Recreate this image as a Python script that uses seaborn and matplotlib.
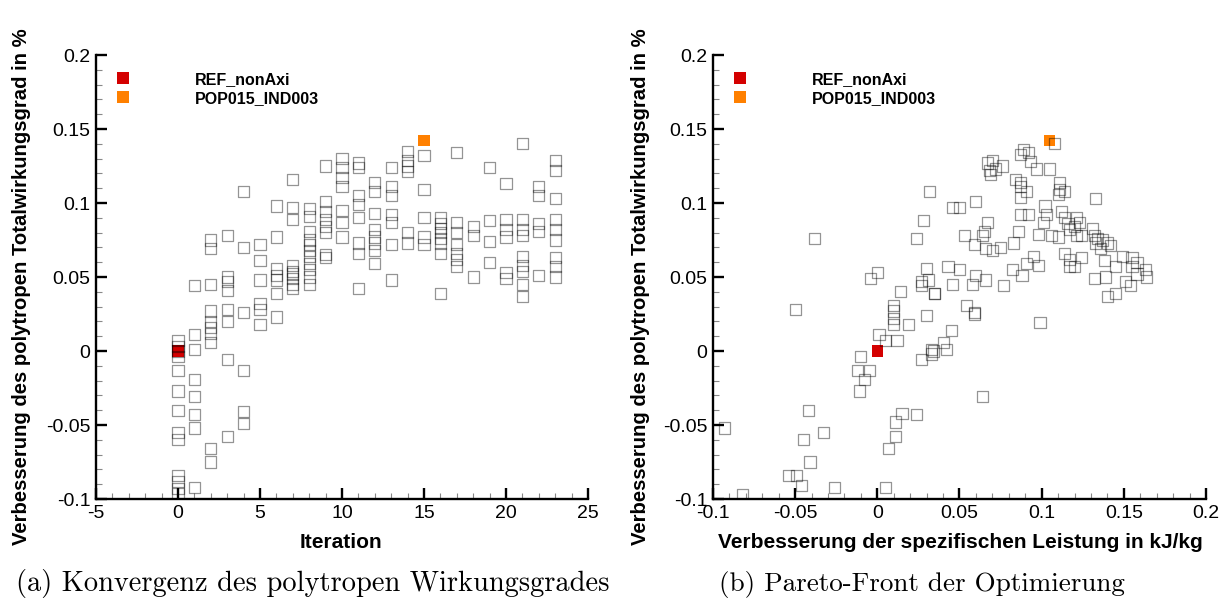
import numpy as np
import pandas as pd
import matplotlib
matplotlib.use("Agg")
import matplotlib.pyplot as plt
import seaborn as sns
from matplotlib.ticker import MultipleLocator, FuncFormatter

# ---------------- data ----------------
# (a) efficiency improvement per iteration (grey individuals)
eta_it00 = [0.007, 0.003, 0.000, -0.004, -0.013, -0.027, -0.040, -0.055, -0.060, -0.084, -0.088, -0.093, -0.096]
eta_it01 = [0.044, 0.011, 0.001, -0.019, -0.031, -0.043, -0.052, -0.092]
eta_it02 = [0.075, 0.069, 0.045, 0.027, 0.020, 0.016, 0.012, 0.006, -0.066, -0.075]
eta_it03 = [0.078, 0.050, 0.047, 0.041, 0.028, 0.020, -0.006, -0.058]
eta_it04 = [0.108, 0.070, 0.026, -0.013, -0.041, -0.049]
eta_it05 = [0.072, 0.061, 0.048, 0.032, 0.028, 0.018]
eta_it06 = [0.098, 0.077, 0.056, 0.051, 0.048, 0.039, 0.023]
eta_it07 = [0.116, 0.097, 0.089, 0.058, 0.054, 0.052, 0.049, 0.045, 0.042]
eta_it08 = [0.096, 0.091, 0.081, 0.075, 0.072, 0.068, 0.064, 0.059, 0.055, 0.050, 0.045]
eta_it09 = [0.125, 0.101, 0.094, 0.089, 0.084, 0.080, 0.065, 0.063]
eta_it10 = [0.130, 0.124, 0.117, 0.111, 0.095, 0.087, 0.077]
eta_it11 = [0.127, 0.124, 0.105, 0.099, 0.090, 0.073, 0.066, 0.042]
eta_it12 = [0.114, 0.108, 0.093, 0.082, 0.077, 0.073, 0.068, 0.059]
eta_it13 = [0.124, 0.111, 0.105, 0.092, 0.087, 0.072, 0.048]
eta_it14 = [0.135, 0.129, 0.125, 0.121, 0.080, 0.073]
eta_it15 = [0.132, 0.109, 0.090, 0.077, 0.072]
eta_it16 = [0.090, 0.086, 0.083, 0.080, 0.076, 0.073, 0.066, 0.039]
eta_it17 = [0.134, 0.087, 0.080, 0.072, 0.066, 0.062, 0.057]
eta_it18 = [0.084, 0.078, 0.050]
eta_it19 = [0.124, 0.088, 0.074, 0.060]
eta_it20 = [0.113, 0.089, 0.082, 0.077, 0.053, 0.049]
eta_it21 = [0.140, 0.089, 0.082, 0.078, 0.064, 0.058, 0.054, 0.045, 0.037]
eta_it22 = [0.111, 0.105, 0.086, 0.081, 0.051]
eta_it23 = [0.129, 0.122, 0.103, 0.089, 0.082, 0.075, 0.063, 0.057, 0.050]
eta_by_iteration = [eta_it00, eta_it01, eta_it02, eta_it03, eta_it04, eta_it05,
                    eta_it06, eta_it07, eta_it08, eta_it09, eta_it10, eta_it11,
                    eta_it12, eta_it13, eta_it14, eta_it15, eta_it16, eta_it17,
                    eta_it18, eta_it19, eta_it20, eta_it21, eta_it22, eta_it23]
iterations = list(range(len(eta_by_iteration)))

# (b) Pareto front: specific power improvement vs efficiency improvement
power_gain = [0.032, 0.028, 0.024, -0.038, 0.030, 0.000, -0.004, 0.027, 0.027, 0.031,
              0.035, 0.014, 0.010, 0.010, 0.010, 0.010, 0.019, 0.030, -0.050, 0.001,
              0.005, 0.012, 0.033, 0.033, 0.027, -0.010, -0.012, -0.005, -0.008, -0.011,
              -0.042, 0.015, 0.024, 0.011, -0.033, -0.045, 0.011, 0.007, -0.041, -0.054,
              -0.049, -0.046, -0.026, 0.005, -0.082, -0.093, 0.064, 0.054, 0.059, 0.045,
              0.040, 0.042, 0.034,
              0.108, 0.089, 0.092, 0.087, 0.093, 0.097, 0.105, 0.070, 0.067, 0.076,
              0.072, 0.068, 0.069, 0.084, 0.087, 0.087, 0.091, 0.087, 0.111, 0.111,
              0.114, 0.110, 0.133, 0.046, 0.050, 0.060, 0.102, 0.103, 0.112, 0.101,
              0.087, 0.092, 0.067, 0.065, 0.064, 0.053, 0.059, 0.066, 0.070, 0.075,
              0.083, 0.086, 0.098, 0.106, 0.110, 0.114, 0.116, 0.117, 0.121, 0.123,
              0.120, 0.121, 0.124, 0.131, 0.132, 0.134, 0.137, 0.140, 0.133, 0.136,
              0.142, 0.114, 0.117, 0.124, 0.117, 0.120, 0.138, 0.149, 0.155, 0.158,
              0.145, 0.155, 0.163, 0.158, 0.164, 0.132, 0.139, 0.151, 0.154, 0.145,
              0.140, 0.095, 0.091, 0.098, 0.082, 0.088, 0.043, 0.050, 0.060, 0.066,
              0.046, 0.058, 0.077, 0.035, 0.059, 0.099]
eta_gain = [0.108, 0.088, 0.076, 0.076, 0.056, 0.053, 0.049, 0.047, 0.044, 0.048,
            0.039, 0.040, 0.031, 0.027, 0.022, 0.018, 0.018, 0.024, 0.028, 0.011,
            0.007, 0.007, 0.001, -0.002, -0.006, -0.004, -0.013, -0.013, -0.019, -0.027,
            -0.040, -0.042, -0.043, -0.048, -0.055, -0.060, -0.058, -0.066, -0.075, -0.084,
            -0.084, -0.091, -0.092, -0.092, -0.097, -0.052, -0.031, 0.031, 0.025, 0.014,
            0.006, 0.001, 0.000,
            0.140, 0.136, 0.134, 0.133, 0.128, 0.123, 0.123, 0.129, 0.127, 0.125,
            0.123, 0.122, 0.119, 0.116, 0.114, 0.111, 0.108, 0.104, 0.114, 0.109,
            0.108, 0.106, 0.103, 0.097, 0.097, 0.101, 0.098, 0.092, 0.094, 0.087,
            0.092, 0.092, 0.087, 0.081, 0.078, 0.078, 0.072, 0.069, 0.068, 0.070,
            0.073, 0.081, 0.079, 0.078, 0.077, 0.090, 0.086, 0.082, 0.090, 0.087,
            0.084, 0.078, 0.078, 0.083, 0.078, 0.076, 0.075, 0.073, 0.073, 0.069,
            0.071, 0.066, 0.062, 0.063, 0.057, 0.057, 0.061, 0.064, 0.063, 0.060,
            0.057, 0.057, 0.055, 0.052, 0.050, 0.049, 0.050, 0.047, 0.044, 0.039,
            0.037, 0.064, 0.059, 0.058, 0.055, 0.051, 0.057, 0.055, 0.051, 0.048,
            0.045, 0.045, 0.044, 0.039, 0.026, 0.019]

# highlighted designs
design_names = ["REF_nonAxi", "POP015_IND003"]
design_iteration = [0, 15]
design_eta = [0.000, 0.142]
design_power = [0.000, 0.105]
design_colors = ["#D40000", "#FF8000"]

# ---------------- frames ----------------
left_df = pd.DataFrame({
    "Iteration": [it for it, vals in zip(iterations, eta_by_iteration) for _ in vals],
    "eta": [v for vals in eta_by_iteration for v in vals],
})
right_df = pd.DataFrame({"power": power_gain, "eta": eta_gain})
design_df = pd.DataFrame({"Design": design_names, "Iteration": design_iteration,
                          "eta": design_eta, "power": design_power})
palette = dict(zip(design_names, design_colors))

# ---------------- style ----------------
sns.set_theme(style="ticks")
plt.rcParams["font.family"] = ["Liberation Sans", "DejaVu Sans"]
plt.rcParams["axes.unicode_minus"] = False
plt.rcParams["text.color"] = "black"

W, H = 1229, 603
fig = plt.figure(figsize=(W / 100, H / 100), dpi=100)
fig.patch.set_facecolor("white")
axL = fig.add_axes([96 / W, 1 - 499 / H, 492 / W, 444 / H])
axR = fig.add_axes([713 / W, 1 - 499 / H, 493 / W, 444 / H])

MS = 64
for ax, xcol, gdf in ((axL, "Iteration", left_df), (axR, "power", right_df)):
    sns.scatterplot(data=design_df, x=xcol, y="eta", hue="Design", palette=palette,
                    hue_order=design_names, marker="s", s=MS, linewidth=0,
                    ax=ax, zorder=2)
    sns.scatterplot(data=gdf, x=xcol, y="eta", marker="s", s=MS,
                    facecolors="none", edgecolor="black", alpha=0.42,
                    linewidth=0.9, ax=ax, legend=False, zorder=3)

fmt = FuncFormatter(lambda v, p: ("%g" % round(v, 6)) if abs(v) > 1e-9 else "0")

axL.set_xlim(-5, 25)
axL.xaxis.set_major_locator(MultipleLocator(5))
axL.xaxis.set_minor_locator(MultipleLocator(1))
axR.set_xlim(-0.1, 0.2)
axR.xaxis.set_major_locator(MultipleLocator(0.05))
axR.xaxis.set_minor_locator(MultipleLocator(0.01))

for ax in (axL, axR):
    ax.set_facecolor("white")
    ax.set_ylim(-0.1, 0.2)
    ax.yaxis.set_major_locator(MultipleLocator(0.05))
    ax.yaxis.set_minor_locator(MultipleLocator(0.01))
    ax.xaxis.set_major_formatter(fmt)
    ax.yaxis.set_major_formatter(fmt)
    sns.despine(ax=ax)
    for s in ("left", "bottom"):
        ax.spines[s].set_linewidth(1.7)
        ax.spines[s].set_color("black")
    ax.tick_params(which="major", direction="in", length=8, width=1.7,
                   labelsize=14, pad=4, color="black", labelcolor="black")
    ax.tick_params(which="minor", direction="in", length=4, width=0.8, color="#888888")
    ax.set_xlabel("")
    ax.set_ylabel("")
    sns.move_legend(ax, "upper left", bbox_to_anchor=(0.022, 0.962), frameon=False,
                    title=None, borderpad=0, borderaxespad=0, handletextpad=3.5,
                    labelspacing=0.25, handlelength=2, labelcolor="black",
                    prop={"weight": "bold", "size": 11.5})

ylab = "Verbesserung des polytropen Totalwirkungsgrad in %"
fig.text(22 / W, 1 - 287 / H, ylab, rotation=90, ha="center", va="center",
         fontsize=14.6, fontweight="bold", color="black")
fig.text(640 / W, 1 - 287 / H, ylab, rotation=90, ha="center", va="center",
         fontsize=14.6, fontweight="bold", color="black")
fig.text(341 / W, 1 - 543 / H, "Iteration", ha="center", va="center",
         fontsize=15, fontweight="bold", color="black")
fig.text(960 / W, 1 - 543 / H, "Verbesserung der spezifischen Leistung in kJ/kg",
         ha="center", va="center", fontsize=15, fontweight="bold", color="black")

fig.text(313 / W, 1 - 584 / H, "(a) Konvergenz des polytropen Wirkungsgrades",
         ha="center", va="center", fontsize=20.5, family="cmr10", color="black")
fig.text(922 / W, 1 - 584 / H, "(b) Pareto-Front der Optimierung",
         ha="center", va="center", fontsize=19.5, family="cmr10", color="black")

fig.savefig("out.png", dpi=100, facecolor="white")
